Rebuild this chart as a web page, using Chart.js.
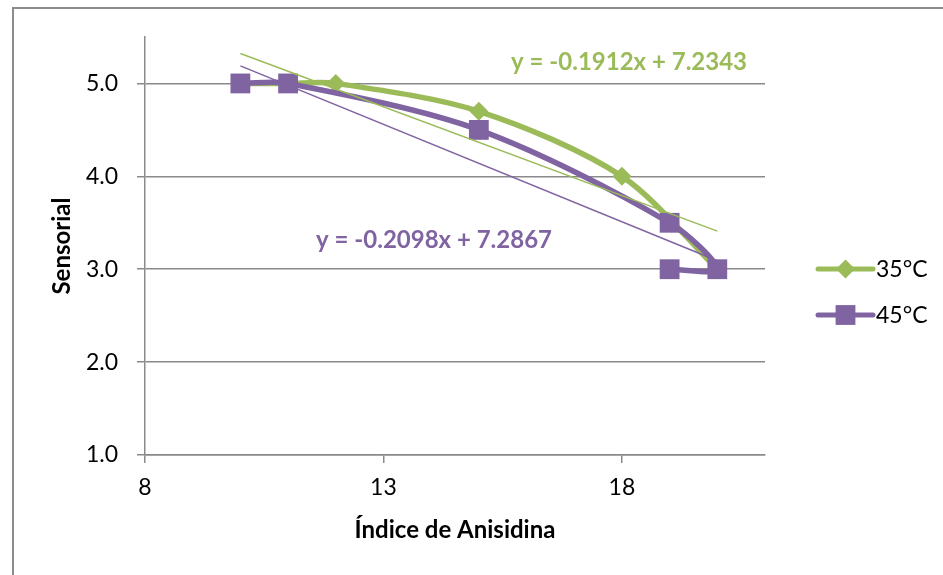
<!DOCTYPE html>
<html>
<head>
<meta charset="utf-8">
<script src="https://cdn.jsdelivr.net/npm/chart.js@4.4.1/dist/chart.umd.min.js"></script>
<style>
html, body { margin: 0; padding: 0; background: #fff; overflow: hidden; }
</style>
</head>
<body>
<canvas id="myChart" width="943" height="575"></canvas>
<script>
const xTicks = [8, 13, 18]
const yTicks = [1, 2, 3, 4, 5]
const seriesNames = ['35°C', '45°C']
const seriesColors = ['#9BBB59', '#8064A2']
const x35 = [10, 11, 12, 15, 18, 20]
const y35 = [5.0, 5.0, 5.0, 4.7, 4.0, 3.0]
const x45 = [10, 11, 15, 19, 20, 19]
const y45 = [5.0, 5.0, 4.5, 3.5, 3.0, 3.0]
const trendSlopes = [-0.1912, -0.2098]
const trendIntercepts = [7.2343, 7.2867]
const trendFrom = [10, 10]
const trendTo = [20, 20]
const eqLabels = ['y = -0.1912x + 7.2343', 'y = -0.2098x + 7.2867']
const eqAt = [[18.15, 5.23], [14.06, 3.31]]

const fontName = 'Lato, "Open Sans", sans-serif'
const gridGray = '#8a8a8a'

function toPoints(xs, ys) {
    return xs.map((x, i) => ({x: x, y: ys[i]}))
}

function trendPoints(i) {
    return [trendFrom[i], trendTo[i]].map(x => ({x: x, y: trendSlopes[i] * x + trendIntercepts[i]}))
}

const seriesData = [toPoints(x35, y35), toPoints(x45, y45)]
const pointStyles = ['rectRot', 'rect']
const pointSizes = [9.5, 14]

// box round the chart, only left and top edges fall inside the window
const frame = {
    id: 'frame',
    beforeDraw(chart) {
        let ctx = chart.ctx
        ctx.save()
        ctx.strokeStyle = '#8c8c8c'
        ctx.lineWidth = 2
        ctx.strokeRect(13, 8, 1200, 1200)
        ctx.restore()
    }
}

const equations = {
    id: 'equations',
    afterDatasetsDraw(chart) {
        let ctx = chart.ctx
        let xs = chart.scales.x, ys = chart.scales.y
        ctx.save()
        ctx.font = `bold 24px ${fontName}`
        ctx.textAlign = 'center'
        ctx.textBaseline = 'middle'
        eqLabels.forEach((txt, i) => {
            ctx.fillStyle = seriesColors[i]
            ctx.fillText(txt, xs.getPixelForValue(eqAt[i][0]), ys.getPixelForValue(eqAt[i][1]))
        })
        ctx.restore()
    }
}

const sideLegend = {
    id: 'sideLegend',
    afterDraw(chart) {
        let ctx = chart.ctx
        let x0 = chart.chartArea.right + 53
        let rows = [269, 315]
        ctx.save()
        seriesNames.forEach((name, i) => {
            let y = rows[i]
            ctx.strokeStyle = seriesColors[i]
            ctx.lineWidth = 5
            ctx.lineCap = 'round'
            ctx.beginPath()
            ctx.moveTo(x0, y)
            ctx.lineTo(x0 + 55, y)
            ctx.stroke()
            ctx.fillStyle = seriesColors[i]
            Chart.helpers.drawPoint(ctx, {pointStyle: pointStyles[i], radius: pointSizes[i], borderWidth: 0}, x0 + 27.5, y)
            ctx.fillStyle = '#000'
            ctx.font = `23px ${fontName}`
            ctx.textAlign = 'left'
            ctx.textBaseline = 'middle'
            ctx.fillText(name, x0 + 58, y + 1)
        })
        ctx.restore()
    }
}

const datasets = []
seriesNames.forEach((name, i) => {
    datasets.push({
        label: name + ' trend',
        data: trendPoints(i),
        showLine: true,
        borderColor: seriesColors[i],
        borderWidth: 1.5,
        pointRadius: 0,
        tension: 0,
        order: 0
    })
})
seriesNames.forEach((name, i) => {
    datasets.push({
        label: name,
        data: seriesData[i],
        showLine: true,
        borderColor: seriesColors[i],
        backgroundColor: seriesColors[i],
        borderWidth: 5.5,
        pointStyle: pointStyles[i],
        pointRadius: pointSizes[i],
        pointBorderWidth: 0,
        pointHoverRadius: pointSizes[i],
        tension: 0.3,
        order: 2 - i
    })
})

const ctx = document.getElementById('myChart')

new Chart(ctx, {
    type: 'scatter',
    data: {datasets: datasets},
    plugins: [frame, equations, sideLegend],
    options: {
        responsive: false,
        animation: false,
        devicePixelRatio: 1,
        layout: {padding: {left: 0, top: 37, right: 178, bottom: 0}},
        plugins: {
            legend: {display: false},
            tooltip: {enabled: false}
        },
        scales: {
            x: {
                type: 'linear',
                position: 'bottom',
                min: 8,
                max: 21,
                afterBuildTicks: s => { s.ticks = xTicks.map(v => ({value: v})) },
                afterFit: s => { s.height = 120 },
                grid: {drawOnChartArea: false, drawTicks: true, tickLength: 8, color: gridGray, lineWidth: 1.5},
                border: {color: gridGray, width: 1.5},
                ticks: {color: '#000', font: {family: fontName, size: 23}, padding: 11},
                title: {
                    display: true,
                    text: 'Índice de Anisidina',
                    color: '#000',
                    font: {family: fontName, size: 24, weight: 'bold'},
                    padding: {top: 0, bottom: 30}
                }
            },
            y: {
                type: 'linear',
                min: 1,
                max: 5.5,
                afterBuildTicks: s => { s.ticks = yTicks.map(v => ({value: v})) },
                afterFit: s => { s.width = 145 },
                grid: {color: gridGray, lineWidth: 1.5, tickLength: 8},
                border: {color: gridGray, width: 1.5},
                ticks: {
                    color: '#000',
                    font: {family: fontName, size: 23},
                    padding: 19,
                    callback: v => v.toFixed(1)
                },
                title: {
                    display: true,
                    text: 'Sensorial',
                    color: '#000',
                    font: {family: fontName, size: 24, weight: 'bold'},
                    padding: {top: 48, bottom: 0}
                }
            }
        }
    }
})
</script>
</body>
</html>
